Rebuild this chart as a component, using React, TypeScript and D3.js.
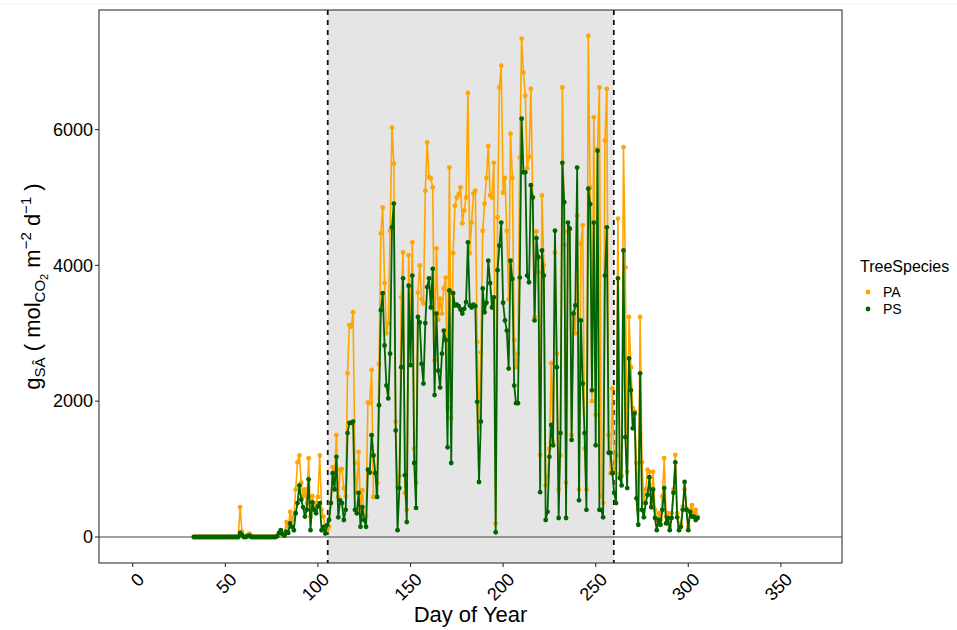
import React from "react";
import * as d3 from "d3";

const startDay = 33;
const paValues: number[] = [
  // 33-57
  0, 0, 0, 0, 0, 0, 0, 0, 0, 0, 0, 0, 0, 0, 0, 0, 0, 0, 0, 0, 0, 0, 0, 0, 0,
  // 58-77
  440, 80, 10, 0, 30, 50, 20, 0, 0, 0, 0, 0, 0, 0, 0, 0, 0, 0, 0, 0,
  // 78-104
  20, 40, 80, 30, 60, 220, 150, 370, 250, 300, 700, 1100, 1200, 800, 600, 700, 500, 1160, 300, 600, 450, 500, 590, 1200, 400, 300, 100,
  // 105-131
  100, 150, 500, 1030, 900, 1500, 590, 990, 1000, 720, 600, 2410, 3120, 3100, 3310, 1090, 650, 1250, 400, 690, 265, 300, 1980, 1970, 2460, 590, 590,
  // 132-161
  800, 2550, 4470, 4850, 3740, 3000, 3150, 4510, 6030, 5500, 1700, 740, 900, 3530, 4190, 650, 400, 4150, 3100, 4340, 1300, 800, 3600, 4000, 3500, 3440, 5100, 5810, 5300, 5280,
  // 162-192
  5150, 2600, 4250, 3200, 3510, 3290, 3660, 3820, 1900, 5440, 1750, 4180, 4880, 5000, 5050, 5150, 4620, 4810, 5000, 6540, 4180, 4630, 5060, 5100, 2870, 1600, 2720, 4510, 4910, 5290, 5760,
  // 193-222
  5030, 5000, 5510, 200, 4710, 6620, 6940, 5070, 5290, 4510, 3500, 5940, 5290, 2900, 2500, 2700, 5590, 7340, 6840, 6500, 5430, 5600, 6600, 5000, 3240, 4500, 3900, 1210, 5030, 4000,
  // 223-252
  760, 900, 1300, 2560, 1400, 4190, 2700, 700, 1200, 6620, 4300, 800, 4500, 4540, 1500, 3300, 3000, 4730, 700, 4320, 4590, 1300, 700, 7380, 5150, 2000, 6180, 1800, 5720, 6620,
  // 253-282
  600, 500, 5840, 6600, 1500, 940, 2190, 1000, 1200, 4690, 930, 900, 5740, 3970, 960, 3240, 2500, 1900, 1850, 1090, 400, 3240, 1100, 500, 700, 990, 960, 500, 960, 400,
  // 283-305
  200, 350, 250, 600, 1160, 300, 350, 150, 350, 700, 1210, 350, 150, 200, 450, 700, 420, 150, 400, 470, 350, 400, 300,
];

const psValues: number[] = [
  // 33-57
  0, 0, 0, 0, 0, 0, 0, 0, 0, 0, 0, 0, 0, 0, 0, 0, 0, 0, 0, 0, 0, 0, 0, 0, 0,
  // 58-77
  60, 30, 0, 0, 10, 20, 0, 0, 0, 0, 0, 0, 0, 0, 0, 0, 0, 0, 0, 0,
  // 78-104
  10, 60, 100, 40, 20, 80, 60, 200, 150, 100, 350, 500, 760, 550, 440, 300, 400, 850, 100, 510, 400, 350, 450, 500, 100, 150, 50,
  // 105-131
  175, 250, 500, 940, 700, 1180, 290, 540, 500, 250, 400, 1530, 1680, 1680, 1700, 400, 350, 650, 150, 440, 250, 150, 990, 950, 1500, 1200, 940,
  // 132-161
  590, 1940, 3340, 3590, 2820, 2230, 2040, 2700, 4560, 4910, 1570, 100, 720, 2500, 3810, 910, 220, 3700, 2530, 3850, 1090, 430, 3240, 3160, 2550, 2260, 3150, 3680, 3810, 3380,
  // 162-192
  3950, 2090, 3290, 2450, 2200, 2700, 3040, 2900, 1320, 3630, 1090, 3590, 3410, 3420, 3400, 3350, 3290, 3360, 3460, 4340, 3410, 3380, 3420, 3400, 1990, 810, 1700, 3660, 3310, 3450, 4070,
  // 193-222
  3740, 3380, 3530, 70, 3930, 4290, 4630, 3450, 3190, 3040, 2480, 4070, 3800, 2230, 1970, 1970, 3820, 6160, 5370, 5370, 3850, 3750, 5180, 5000, 3190, 4400, 4120, 660, 4220, 3850,
  // 223-252
  250, 370, 1180, 1650, 1350, 4510, 2500, 280, 1530, 5510, 4930, 280, 4630, 4540, 1430, 3290, 3410, 5440, 540, 3190, 2260, 1530, 400, 5130, 4900, 2160, 4630, 1350, 5690, 400,
  // 253-282
  400, 290, 3850, 4560, 1240, 1240, 940, 650, 500, 3810, 870, 760, 4220, 1470, 720, 2630, 2160, 1600, 1820, 570, 180, 2410, 400, 290, 500, 620, 880, 440, 700, 280,
  // 283-305
  100, 250, 180, 400, 720, 200, 280, 100, 280, 650, 1100, 290, 100, 150, 400, 810, 400, 100, 370, 300, 300, 250, 280,
];

const seriesNames = ["PA", "PS"];
const seriesColors = ["#FFA500", "#006400"];
const xTicks = [0, 50, 100, 150, 200, 250, 300, 350];
const yTicks = [0, 2000, 4000, 6000];
const seasonBounds = [105.3, 259.8];

export default function App() {
  const W = 957, H = 630;
  const left = 99, right = 842, top = 10, bottom = 563;
  const x = d3.scaleLinear().domain([-18.2, 383]).range([left, right]);
  const y = d3.scaleLinear().domain([-383, 7761]).range([bottom, top]);

  const series = [paValues, psValues].map((vals) =>
    vals.map((v, i) => ({ d: startDay + i, v }))
  );
  const line = d3
    .line<{ d: number; v: number }>()
    .x((p) => x(p.d))
    .y((p) => y(p.v));

  const font = "'Liberation Sans', Arial, sans-serif";

  return (
    <svg width={W} height={H} style={{ position: "absolute", left: 0, top: 0, background: "#fff" }}>
      <rect x={0} y={0} width={W} height={H} fill="#fff" />
      <line x1={0} x2={W} y1={4} y2={4} stroke="#eeeeee" strokeWidth={1} />
      <defs>
        <clipPath id="panel">
          <rect x={left} y={top} width={right - left} height={bottom - top} />
        </clipPath>
      </defs>
      <rect
        x={x(seasonBounds[0])}
        y={top}
        width={x(seasonBounds[1]) - x(seasonBounds[0])}
        height={bottom - top}
        fill="#E5E5E5"
      />
      <line x1={left} x2={right} y1={y(0)} y2={y(0)} stroke="#444" strokeWidth={1.2} />
      {seasonBounds.map((d) => (
        <line
          key={d}
          x1={x(d)}
          x2={x(d)}
          y1={top}
          y2={bottom}
          stroke="#111"
          strokeWidth={1.8}
          strokeDasharray="5,5"
        />
      ))}
      <g clipPath="url(#panel)">
        {series.map((s, k) => (
          <g key={seriesNames[k]}>
            <path d={line(s) || ""} fill="none" stroke={seriesColors[k]} strokeWidth={k === 1 ? 1.8 : 1.6} />
            {s.map((p) => (
              <circle key={p.d} cx={x(p.d)} cy={y(p.v)} r={2.4} fill={seriesColors[k]} />
            ))}
          </g>
        ))}
      </g>
      <rect x={left} y={top} width={right - left} height={bottom - top} fill="none" stroke="#333" strokeWidth={1.1} />
      {yTicks.map((t) => (
        <g key={t}>
          <line x1={left - 4} x2={left} y1={y(t)} y2={y(t)} stroke="#333" strokeWidth={1.1} />
          <text x={left - 6} y={y(t)} dy="0.35em" textAnchor="end" fontFamily={font} fontSize={18} fill="#000">
            {t}
          </text>
        </g>
      ))}
      {xTicks.map((t) => (
        <g key={t}>
          <line x1={x(t)} x2={x(t)} y1={bottom} y2={bottom + 4} stroke="#333" strokeWidth={1.1} />
          <text
            transform={`translate(${x(t) + 3},${bottom + 8}) rotate(-45)`}
            dy="0.75em"
            textAnchor="end"
            fontFamily={font}
            fontSize={18}
            fill="#000"
          >
            {t}
          </text>
        </g>
      ))}
      <text x={(left + right) / 2} y={622} textAnchor="middle" fontFamily={font} fontSize={22} fill="#000">
        Day of Year
      </text>
      <text
        transform={`translate(40,${(top + bottom) / 2}) rotate(-90)`}
        textAnchor="middle"
        fontFamily={font}
        fontSize={22}
        fill="#000"
      >
        <tspan>g</tspan>
        <tspan fontSize={15} dy={5}>SÂ</tspan>
        <tspan dy={-5}> ( mol</tspan>
        <tspan fontSize={15} dy={5}>CO</tspan>
        <tspan fontSize={11} dy={3}>2</tspan>
        <tspan dy={-8}> m</tspan>
        <tspan fontSize={15} dy={-9}>−2</tspan>
        <tspan dy={9}> d</tspan>
        <tspan fontSize={15} dy={-9}>−1</tspan>
        <tspan dy={9}> )</tspan>
      </text>
      <text x={860} y={272} fontFamily={font} fontSize={16} fill="#000">
        TreeSpecies
      </text>
      {seriesNames.map((n, i) => (
        <g key={n}>
          <circle cx={868} cy={292 + i * 17} r={2.4} fill={seriesColors[i]} />
          <text x={883} y={292 + i * 17} dy="0.35em" fontFamily={font} fontSize={14} fill="#000">
            {n}
          </text>
        </g>
      ))}
    </svg>
  );
}
